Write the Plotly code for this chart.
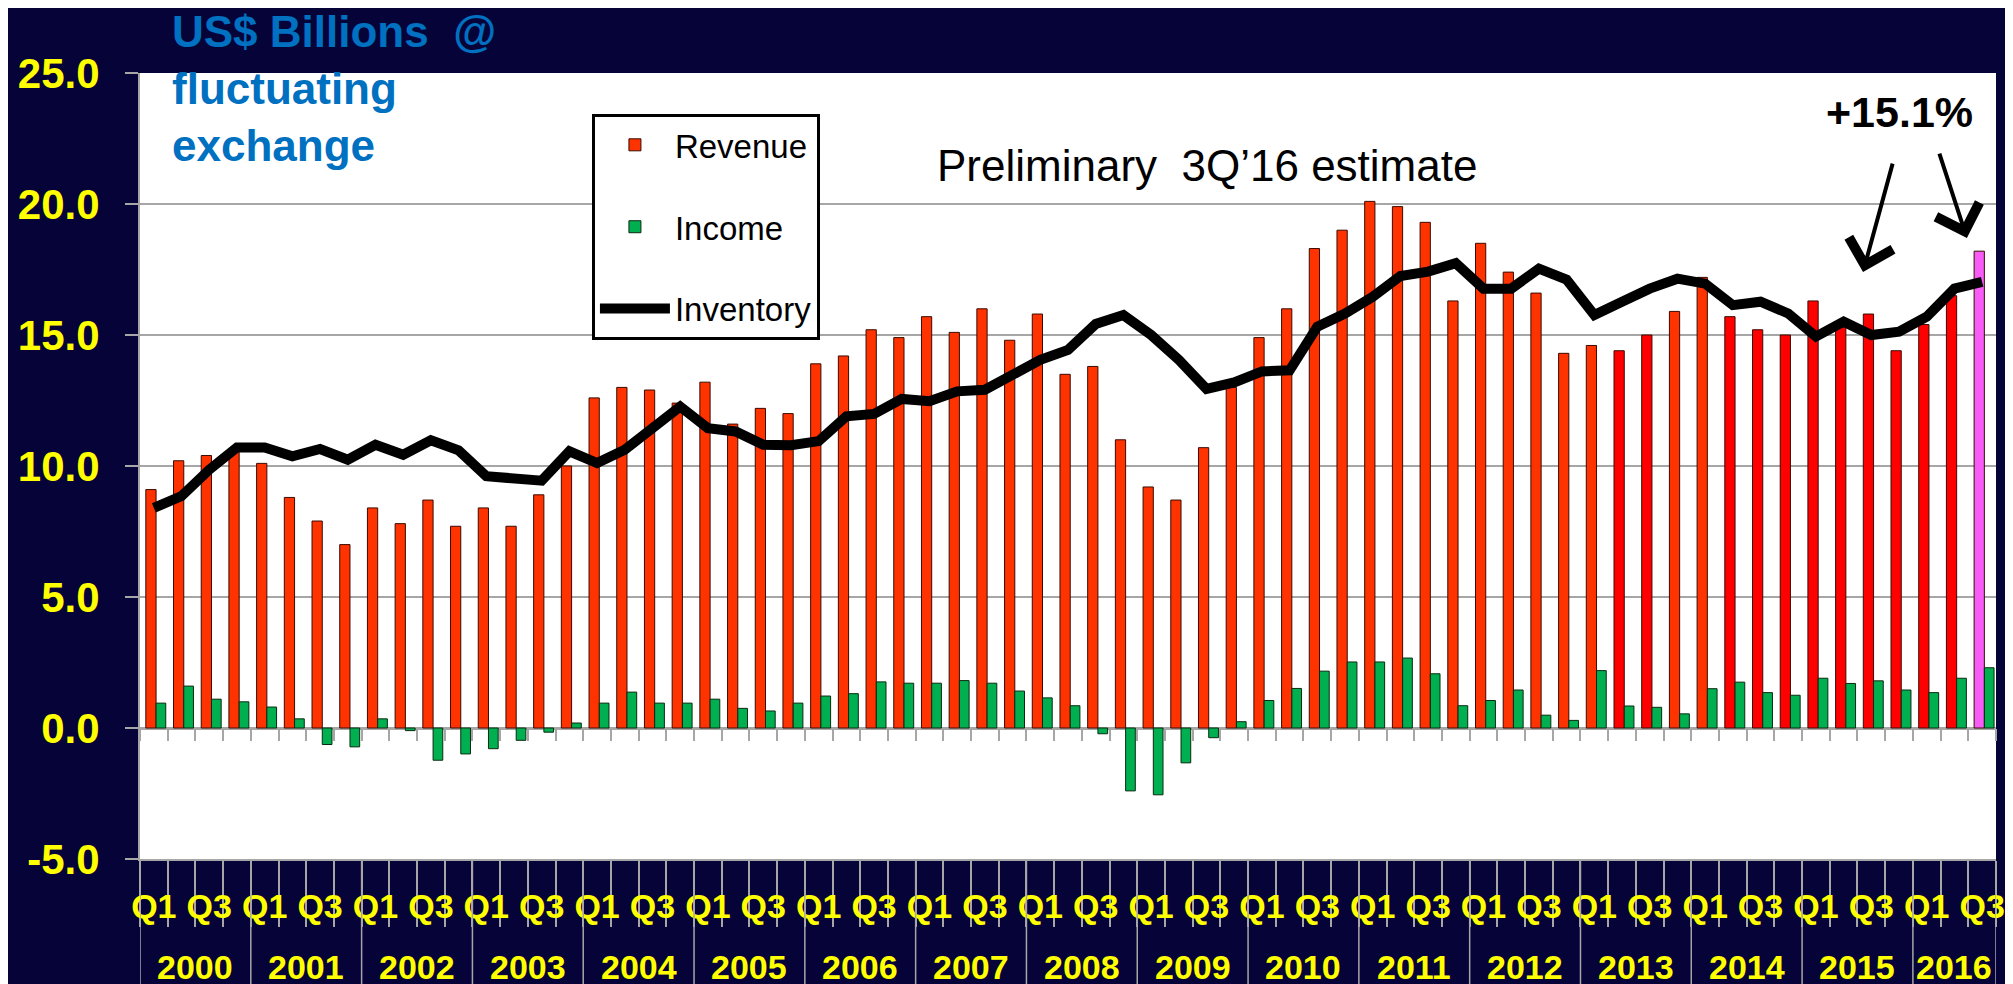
import plotly.graph_objects as go

# ---------------- data ----------------
years = list(range(2000, 2017))
quarter_names = ["Q1", "Q2", "Q3", "Q4"]
periods = [f"{y} {q}" for y in years for q in quarter_names][:67]

revenue = [
    9.1, 10.2, 10.4, 10.6,    # 2000
    10.1, 8.8, 7.9, 7.0,      # 2001
    8.4, 7.8, 8.7, 7.7,       # 2002
    8.4, 7.7, 8.9, 10.0,      # 2003
    12.6, 13.0, 12.9, 12.4,   # 2004
    13.2, 11.6, 12.2, 12.0,   # 2005
    13.9, 14.2, 15.2, 14.9,   # 2006
    15.7, 15.1, 16.0, 14.8,   # 2007
    15.8, 13.5, 13.8, 11.0,   # 2008
    9.2, 8.7, 10.7, 13.0,     # 2009
    14.9, 16.0, 18.3, 19.0,   # 2010
    20.1, 19.9, 19.3, 16.3,   # 2011
    18.5, 17.4, 16.6, 14.3,   # 2012
    14.6, 14.4, 15.0, 15.9,   # 2013
    17.2, 15.7, 15.2, 15.0,   # 2014
    16.3, 15.3, 15.8, 14.4,   # 2015
    15.4, 16.5, 18.2,         # 2016
]

income = [
    0.95, 1.6, 1.1, 1.0,
    0.8, 0.35, -0.63, -0.72,
    0.35, -0.1, -1.23, -0.99,
    -0.79, -0.47, -0.16, 0.19,
    0.95, 1.37, 0.95, 0.95,
    1.1, 0.75, 0.65, 0.95,
    1.22, 1.31, 1.76, 1.71,
    1.71, 1.81, 1.71, 1.41,
    1.15, 0.85, -0.22, -2.40,
    -2.55, -1.33, -0.37, 0.24,
    1.05, 1.51, 2.17, 2.52,
    2.52, 2.67, 2.07, 0.85,
    1.05, 1.45, 0.49, 0.29,
    2.19, 0.84, 0.79, 0.54,
    1.50, 1.75, 1.35, 1.25,
    1.90, 1.70, 1.80, 1.45,
    1.35, 1.90, 2.30,
]

inventory = [
    8.4, 8.85, 9.86, 10.71,
    10.71, 10.37, 10.65, 10.24,
    10.81, 10.43, 10.98, 10.6,
    9.61, 9.54, 9.44, 10.56,
    10.11, 10.62, 11.44, 12.27,
    11.44, 11.32, 10.81, 10.79,
    10.95, 11.9, 11.99, 12.56,
    12.47, 12.85, 12.91, 13.52,
    14.05, 14.43, 15.42, 15.76,
    15.0, 14.05, 12.94, 13.19,
    13.61, 13.65, 15.32, 15.82,
    16.46, 17.25, 17.42, 17.74,
    16.77, 16.77, 17.53, 17.11,
    15.76, 16.27, 16.77, 17.15,
    16.96, 16.14, 16.27, 15.82,
    14.94, 15.51, 15.0, 15.13,
    15.7, 16.77, 17.03,
]

y_tick_values = [-5, 0, 5, 10, 15, 20, 25]
y_tick_labels = ["-5.0", "0.0", "5.0", "10.0", "15.0", "20.0", "25.0"]

# ---------------- styles ----------------
NAVY = "#060339"
ORANGE = "#FF3300"
RED = "#FF0000"
PINK = "#F75CF7"
GREEN = "#00B050"
YELLOW = "#FFFF00"
GRID = "#A6A6A6"
BLUE = "#0070C0"
FONT = "Liberation Sans, Arial, sans-serif"

revenue_colors = [ORANGE] * 53 + [RED] * 2 + [ORANGE] * 2 + [RED] * 9 + [PINK]

n = len(periods)
idx = list(range(n))
q_of = [p.split(" ")[1] for p in periods]
yr_of = [int(p.split(" ")[0]) for p in periods]

label_idx = [i for i in idx if q_of[i] in ("Q1", "Q3")]
label_txt = [q_of[i] for i in label_idx]
boundaries = [i - 0.5 for i in range(n + 1)]

fig = go.Figure()
fig.add_trace(go.Bar(
    x=idx, y=revenue, name="Revenue", legendgroup="r",
    offset=-0.29, width=0.37,
    marker=dict(color=revenue_colors, line=dict(color="#3a0a00", width=1)),
))
fig.add_trace(go.Bar(
    x=idx, y=income, name="Income", legendgroup="i",
    offset=0.08, width=0.35,
    marker=dict(color=GREEN, line=dict(color="#0a2a10", width=1)),
))
fig.add_trace(go.Scatter(
    x=idx, y=inventory, name="Inventory", legendgroup="v",
    mode="lines", line=dict(color="black", width=10),
))
# helper trace for the tick axis drawn on the zero line
fig.add_trace(go.Scatter(
    x=[0], y=[None], xaxis="x2", showlegend=False, hoverinfo="skip", mode="lines",
))

# year labels and dividers
year_list = sorted(set(yr_of))
for y in year_list:
    members = [i for i in idx if yr_of[i] == y]
    fig.add_annotation(
        x=(members[0] + members[-1]) / 2, xref="x", xanchor="center",
        y=-0.1374, yref="paper", yanchor="middle",
        text=str(y), showarrow=False,
        font=dict(family=FONT, size=34, color=YELLOW, weight="bold"),
    )
    fig.add_shape(type="line", xref="x", yref="paper",
                  x0=members[0] - 0.5, x1=members[0] - 0.5, y0=0, y1=-0.17,
                  line=dict(color=GRID, width=1.5))
fig.add_shape(type="line", xref="x", yref="paper",
              x0=n - 0.5, x1=n - 0.5, y0=0, y1=-0.17,
              line=dict(color=GRID, width=1.5))

# texts
fig.add_annotation(
    x=0.016, xref="paper", xanchor="left",
    y=1.086, yref="paper", yanchor="top", align="left",
    text="US$ Billions&nbsp;&nbsp;@<br>fluctuating<br>exchange",
    showarrow=False,
    font=dict(family=FONT, size=44, color=BLUE, weight="bold"),
)
fig.add_annotation(
    x=0.575, xref="paper", xanchor="center", y=0.8817, yref="paper", yanchor="middle",
    text="Preliminary&nbsp;&nbsp;3Q\u201916 estimate", showarrow=False,
    font=dict(family=FONT, size=44, color="black"),
)
fig.add_annotation(
    x=0.948, xref="paper", xanchor="center", y=0.9504, yref="paper", yanchor="middle",
    text="+15.1%", showarrow=False,
    font=dict(family=FONT, size=43, color="black", weight="bold"),
)
# arrows pointing at the compared quarters
fig.add_annotation(x=61.7, xref="x", y=17.4, yref="y", ax=30, ay=-110,
                   text="", showarrow=True, arrowhead=4, arrowsize=2.2,
                   arrowwidth=4, arrowcolor="black")
fig.add_annotation(x=65.45, xref="x", y=18.7, yref="y", ax=-28, ay=-86,
                   text="", showarrow=True, arrowhead=4, arrowsize=2.2,
                   arrowwidth=4, arrowcolor="black")

# The page places the figure 8 px in from the top-left corner, so the
# margins are reduced there (and increased on the far sides) to keep the
# plot area where the reference has it.
fig.update_layout(
    width=2013, height=984,
    margin=dict(l=132, r=25, t=65, b=133, autoexpand=False),
    paper_bgcolor=NAVY, plot_bgcolor="white",
    barmode="group",
    showlegend=True,
    legend=dict(
        x=0.2435, y=0.948, xanchor="left", yanchor="top",
        bgcolor="white", bordercolor="black", borderwidth=3,
        font=dict(family=FONT, size=33, color="black"),
        tracegroupgap=36, itemwidth=70,
    ),
    xaxis=dict(
        automargin=False,
        range=[-0.5, n - 0.5], tickmode="array", tickvals=label_idx, ticktext=label_txt,
        ticks="", showgrid=False, zeroline=False,
        showline=True, linecolor=GRID, linewidth=2,
        tickfont=dict(family=FONT, size=34, color=YELLOW, weight="bold"),
        ticklabelstandoff=16,
        minor=dict(tickmode="array", tickvals=boundaries, ticks="outside",
                   ticklen=66, tickwidth=1.5, tickcolor=GRID, showgrid=False),
    ),
    xaxis2=dict(
        automargin=False,
        overlaying="x", anchor="free", position=5 / 30, side="bottom",
        range=[-0.5, n - 0.5], tickmode="array", tickvals=label_idx,
        ticks="", showticklabels=False, showgrid=False, zeroline=False, showline=False,
        minor=dict(tickmode="array", tickvals=boundaries, ticks="outside",
                   ticklen=12, tickwidth=1.5, tickcolor=GRID, showgrid=False),
    ),
    yaxis=dict(
        automargin=False,
        range=[-5, 25], tickmode="array", tickvals=y_tick_values, ticktext=y_tick_labels,
        showgrid=True, gridcolor=GRID, gridwidth=1.5,
        zeroline=True, zerolinecolor=GRID, zerolinewidth=2.5,
        showline=True, linecolor=GRID, linewidth=2,
        ticks="outside", ticklen=13, tickcolor=GRID, tickwidth=1.5,
        tickfont=dict(family=FONT, size=42, color=YELLOW, weight="bold"),
        ticklabelstandoff=17,
    ),
)

fig.write_html("out.html")
